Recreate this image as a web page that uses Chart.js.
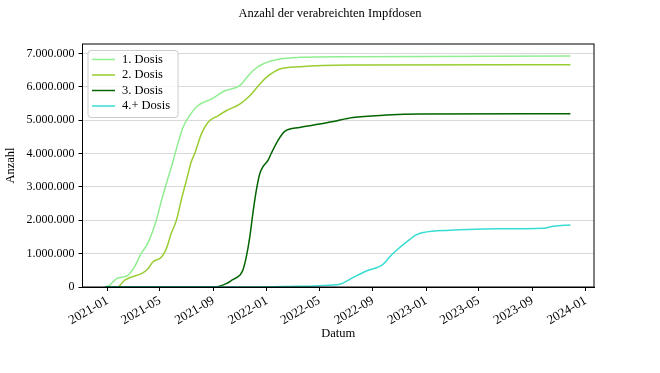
<!DOCTYPE html>
<html>
<head>
<meta charset="utf-8">
<script src="https://cdn.jsdelivr.net/npm/chart.js@4.4.1/dist/chart.umd.min.js"></script>
<style>
  html, body { margin: 0; padding: 0; background: #fff; }
  #wrap { width: 660px; height: 373px; }
</style>
</head>
<body>
<div id="wrap"><canvas id="chart"></canvas></div>
<script>
const seriesLabels = ['1. Dosis', '2. Dosis', '3. Dosis', '4.+ Dosis'];

const dose1Dates = ['2020-12-27', '2021-01-06', '2021-01-22', '2021-02-17', '2021-03-04', '2021-03-19',
    '2021-04-03', '2021-04-23', '2021-05-05', '2021-05-16', '2021-05-24', '2021-05-31', '2021-06-04',
    '2021-06-23', '2021-07-08', '2021-07-27', '2021-08-27', '2021-09-27', '2021-10-31', '2021-11-07',
    '2021-11-30', '2021-12-23', '2022-01-31', '2022-03-17', '2022-07-10', '2023-11-27'];
const dose1Values = [0, 50000, 250000, 350000, 600000, 1000000,
    1300000, 2000000, 2600000, 3100000, 3450000, 3750000, 3950000,
    4780000, 5130000, 5430000, 5630000, 5880000, 6030000, 6130000,
    6480000, 6680000, 6830000, 6880000, 6900000, 6920000];

const dose2Dates = ['2020-12-27', '2021-01-24', '2021-02-09', '2021-02-25', '2021-03-20', '2021-04-04',
    '2021-04-15', '2021-05-05', '2021-05-16', '2021-05-27', '2021-06-08', '2021-06-19', '2021-07-01',
    '2021-07-12', '2021-07-20', '2021-08-04', '2021-08-19', '2021-09-11', '2021-09-30', '2021-10-31',
    '2021-11-23', '2021-12-16', '2021-12-31', '2022-01-31', '2022-03-17', '2022-07-10', '2023-11-27'];
const dose2Values = [0, 0, 200000, 300000, 400000, 550000,
    750000, 900000, 1150000, 1600000, 2000000, 2600000, 3200000,
    3750000, 4000000, 4580000, 4930000, 5130000, 5280000, 5480000,
    5730000, 6080000, 6280000, 6530000, 6600000, 6650000, 6660000];

const dose3Dates = ['2020-12-27', '2021-09-04', '2021-09-30', '2021-10-15', '2021-10-31', '2021-11-07',
    '2021-11-15', '2021-11-23', '2021-11-30', '2021-12-08', '2021-12-16', '2021-12-23', '2022-01-04',
    '2022-01-11', '2022-01-27', '2022-02-11', '2022-03-17', '2022-05-02', '2022-06-02', '2022-07-17',
    '2022-10-02', '2022-12-17', '2023-11-27'];
const dose3Values = [0, 0, 100000, 220000, 350000, 500000,
    900000, 1500000, 2200000, 2900000, 3400000, 3600000, 3800000,
    4000000, 4400000, 4660000, 4780000, 4880000, 4960000, 5080000,
    5150000, 5180000, 5190000];

const dose4Dates = ['2020-12-27', '2021-11-23', '2022-03-17', '2022-05-02', '2022-06-17', '2022-07-17',
    '2022-08-17', '2022-09-24', '2022-10-09', '2022-10-25', '2022-11-17', '2022-12-10', '2022-12-25',
    '2023-02-24', '2023-05-11', '2023-09-26', '2023-10-19', '2023-11-27'];
const dose4Values = [0, 0, 20000, 40000, 80000, 280000,
    480000, 680000, 900000, 1100000, 1350000, 1570000, 1630000,
    1700000, 1740000, 1760000, 1820000, 1860000];

const xTickLabels = ['2021-01', '2021-05', '2021-09', '2022-01', '2022-05',
    '2022-09', '2023-01', '2023-05', '2023-09', '2024-01'];
const yTicks = [0, 1000000, 2000000, 3000000, 4000000, 5000000, 6000000, 7000000];
const xRange = ['2020-11-05', '2024-01-20'];
const yRange = [0, 7280000];

// days since 2021-01-01, used as the linear x value
function toDay(s) {
    const [y, m, d] = s.split('-').map(Number);
    return (Date.UTC(y, m - 1, d) - Date.UTC(2021, 0, 1)) / 86400000;
}

function formatDe(v) {
    return String(v).replace(/\B(?=(\d{3})+(?!\d))/g, '.');
}

function points(dates, values) {
    return dates.map((d, i) => ({ x: toDay(d), y: values[i] }));
}

const colors = ['#90ee90', '#9acd32', '#006400', '#38dcd2'];
const serif = '"Liberation Serif", "Times New Roman", serif';

const seriesData = [
    points(dose1Dates, dose1Values),
    points(dose2Dates, dose2Values),
    points(dose3Dates, dose3Values),
    points(dose4Dates, dose4Values)
];

// spines on all four sides + legend box inside the axes, matplotlib style
const framePlugin = {
    id: 'frame',
    afterDraw(chart) {
        const { ctx, chartArea: a } = chart;
        ctx.save();
        ctx.strokeStyle = '#000';
        ctx.lineWidth = 1;
        ctx.strokeRect(a.left, a.top, a.right - a.left, a.bottom - a.top);

        ctx.font = '12.5px ' + serif;
        const labels = chart.data.datasets.map(ds => ds.label);
        const textW = Math.max(...labels.map(l => ctx.measureText(l).width));
        const x0 = a.left + 5, y0 = a.top + 6;
        const w = 34 + textW + 8, h = 67;
        ctx.beginPath();
        ctx.roundRect(x0 + 0.5, y0 + 0.5, w, h, 3);
        ctx.fillStyle = 'rgba(255,255,255,0.8)';
        ctx.fill();
        ctx.strokeStyle = '#cccccc';
        ctx.stroke();

        chart.data.datasets.forEach((ds, i) => {
            const cy = y0 + 9.5 + i * 15.5;
            ctx.beginPath();
            ctx.strokeStyle = ds.borderColor;
            ctx.lineWidth = 1.5;
            ctx.moveTo(x0 + 4.5, cy);
            ctx.lineTo(x0 + 27.5, cy);
            ctx.stroke();
            ctx.fillStyle = '#000';
            ctx.textBaseline = 'middle';
            ctx.textAlign = 'left';
            ctx.fillText(ds.label, x0 + 34.5, cy);
        });
        ctx.restore();
    }
};

new Chart(document.getElementById('chart'), {
    type: 'line',
    data: {
        datasets: seriesData.map((pts, i) => ({
            label: seriesLabels[i],
            data: pts,
            borderColor: colors[i],
            backgroundColor: colors[i],
            borderWidth: 1.5,
            pointRadius: 0,
            cubicInterpolationMode: 'monotone',
            fill: false,
            order: seriesData.length - i
        }))
    },
    options: {
        responsive: true,
        maintainAspectRatio: false,
        animation: false,
        layout: { padding: 0 },
        plugins: {
            legend: { display: false },
            tooltip: { enabled: false },
            title: {
                display: true,
                text: 'Anzahl der verabreichten Impfdosen',
                color: '#000',
                font: { family: serif, size: 12.5, weight: 'normal' },
                padding: { top: 6, bottom: 23 }
            }
        },
        scales: {
            x: {
                type: 'linear',
                min: toDay(xRange[0]),
                max: toDay(xRange[1]),
                afterBuildTicks: s => { s.ticks = xTickLabels.map(l => ({ value: toDay(l + '-01') })); },
                afterFit: s => { s.height = 86; },
                ticks: {
                    color: '#000',
                    font: { family: serif, size: 13 },
                    minRotation: 30,
                    maxRotation: 30,
                    padding: 2,
                    callback: (v, i) => xTickLabels[i]
                },
                grid: { display: true, drawOnChartArea: false, drawTicks: true, tickLength: 4, tickColor: '#000' },
                border: { display: true, color: '#000' },
                title: {
                    display: true,
                    text: 'Datum',
                    color: '#000',
                    font: { family: serif, size: 12.5 },
                    padding: { top: 0, bottom: 32 }
                }
            },
            y: {
                type: 'linear',
                min: yRange[0],
                max: yRange[1],
                afterBuildTicks: s => { s.ticks = yTicks.map(v => ({ value: v })); },
                afterFit: s => { s.width = 82.5; },
                ticks: {
                    color: '#000',
                    font: { family: serif, size: 12 },
                    padding: 4,
                    callback: v => formatDe(v)
                },
                grid: { color: '#d9d9d9', tickLength: 4, tickColor: '#000' },
                border: { display: true, color: '#000' },
                title: {
                    display: true,
                    text: 'Anzahl',
                    color: '#000',
                    font: { family: serif, size: 12.5 },
                    padding: { top: 3, bottom: 0 }
                }
            },
            yRight: {
                type: 'linear',
                position: 'right',
                min: 0,
                max: 1,
                afterFit: s => { s.width = 66; },
                ticks: { display: false },
                grid: { display: false },
                border: { display: false }
            }
        }
    },
    plugins: [framePlugin]
});
</script>
</body>
</html>
